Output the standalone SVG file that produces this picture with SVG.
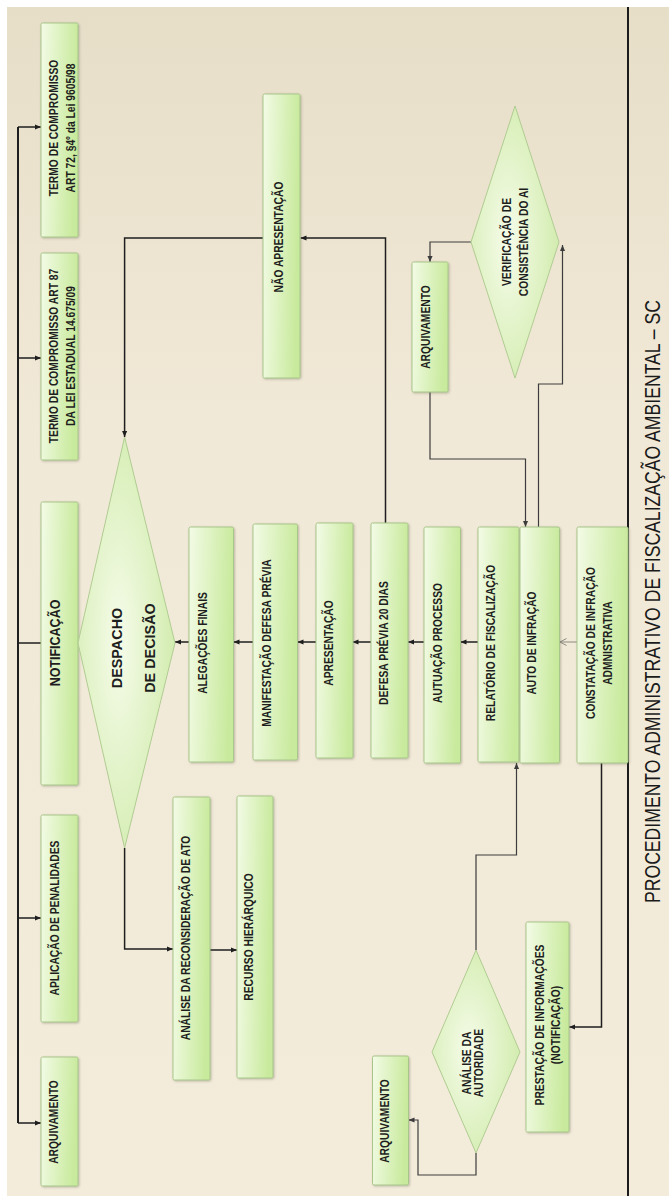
<svg xmlns="http://www.w3.org/2000/svg" width="669" height="1196" viewBox="0 0 669 1196">
<defs>
<linearGradient id="bg" x1="0" y1="0" x2="0" y2="1">
<stop offset="0" stop-color="#e7dec8"/>
<stop offset="0.35" stop-color="#f1e9d7"/>
<stop offset="1" stop-color="#f4ecdb"/>
</linearGradient>
<linearGradient id="gb" x1="0" y1="0" x2="1" y2="0.15">
<stop offset="0" stop-color="#f3fbe6"/>
<stop offset="1" stop-color="#c8ea9c"/>
</linearGradient>
<radialGradient id="gd" cx="0.42" cy="0.5" r="0.7">
<stop offset="0" stop-color="#f6fcea"/>
<stop offset="1" stop-color="#cbe9a3"/>
</radialGradient>
<filter id="sh" x="-20%" y="-10%" width="140%" height="120%">
<feDropShadow dx="1" dy="1" stdDeviation="0.8" flood-color="#5a5a40" flood-opacity="0.35"/>
</filter>
<marker id="a" viewBox="0 0 8 8" refX="8" refY="4" markerWidth="6" markerHeight="6" markerUnits="userSpaceOnUse" orient="auto">
<path d="M0,0.6 L8,4 L0,7.4 z" fill="#1e1e1e"/>
</marker>
<marker id="ag" viewBox="0 0 8 8" refX="8" refY="4" markerWidth="6" markerHeight="6" markerUnits="userSpaceOnUse" orient="auto">
<path d="M0,0.6 L8,4 L0,7.4 z" fill="#3c3c3c"/>
</marker>
<marker id="ao" viewBox="0 0 8 8" refX="7.5" refY="4" markerWidth="8" markerHeight="8" markerUnits="userSpaceOnUse" orient="auto">
<path d="M1,0.5 L7.5,4 L1,7.5" fill="none" stroke="#8a8a80" stroke-width="1"/>
</marker>
<style>
.box{fill:url(#gb);stroke:#a8c58a;stroke-width:1;filter:url(#sh);}
.dia{fill:url(#gd);stroke:#b0cc92;stroke-width:1;}
.t{font-family:"Liberation Sans",Arial,sans-serif;font-weight:bold;font-size:10.3px;fill:#1e1e1e;text-anchor:middle;}
.big{font-size:14.4px;}
.ntf{font-size:12.5px;}
.title{font-family:"Liberation Sans",Arial,sans-serif;font-size:18px;fill:#1a1a1a;text-anchor:middle;}
.c{fill:none;stroke:#1e1e1e;stroke-width:1.5;}
.k{fill:none;stroke:#1e1e1e;stroke-width:2;}
.g{fill:none;stroke:#3c3c3c;stroke-width:1.2;}
</style>
</defs>

<rect x="0" y="0" width="669" height="1196" fill="#ffffff"/>
<rect x="7" y="7" width="662" height="1189" fill="url(#bg)"/>
<line x1="628" y1="7" x2="628" y2="1196" stroke="#1c1c1c" stroke-width="2"/>

<g id="connectors">
<path class="k" d="M18,127 V1123"/>
<path class="c" d="M18,127 H41" marker-end="url(#a)"/>
<path class="c" d="M18,358 H41" marker-end="url(#a)"/>
<path class="c" d="M18,643 H41"/>
<path class="c" d="M18,918 H41" marker-end="url(#a)"/>
<path class="c" d="M18,1123 H41" marker-end="url(#a)"/>
<path class="c" d="M189,642 H175" marker-end="url(#a)"/>
<path class="c" d="M253,642 H233.5" marker-end="url(#a)"/>
<path class="c" d="M316,642 H297.5" marker-end="url(#a)"/>
<path class="c" d="M371,642 H352.5" marker-end="url(#a)"/>
<path class="c" d="M424,642 H408" marker-end="url(#a)"/>
<path class="c" d="M478,642 H460.5" marker-end="url(#a)"/>
<path fill="none" stroke="#8a8a80" stroke-width="1" d="M577,642 H560" marker-end="url(#ao)"/>
<path class="c" d="M385.5,523 V238 H300.5" marker-end="url(#a)"/>
<path class="c" d="M263,238 H124.6 V437" marker-end="url(#a)"/>
<path class="g" d="M471,242 H430 V262" marker-end="url(#ag)"/>
<path class="g" d="M430,392 V459 H525.5 V527" marker-end="url(#ag)"/>
<path class="g" d="M538.5,527 V384 H562.5 V245" marker-end="url(#ag)"/>
<path class="c" d="M601.5,763 V1027 H569" marker-end="url(#a)"/>
<path class="g" d="M476,950 V855 H516.5 V763" marker-end="url(#ag)"/>
<path class="g" d="M476,1153 V1175 H418 V1120 H408.5" marker-end="url(#ag)"/>
<path class="c" d="M124.6,848 V949 H173" marker-end="url(#a)"/>
<path class="c" d="M210,950 H237" marker-end="url(#a)"/>
</g>

<g id="termo72">
<rect class="box" x="41" y="23" width="37" height="214" rx="1.5"/>
<text class="t" transform="translate(57.6,128) rotate(-90) scale(1,1.2)">TERMO DE COMPROMISSO</text>
<text class="t" transform="translate(74.6,128) rotate(-90) scale(1,1.2)">ART 72, §4º  da Lei 9605/98</text>
</g>
<g id="termo87">
<rect class="box" x="41" y="253" width="37" height="207" rx="1.5"/>
<text class="t" transform="translate(57.6,356) rotate(-90) scale(1,1.2)">TERMO DE COMPROMISSO ART 87</text>
<text class="t" transform="translate(74.6,356) rotate(-90) scale(1,1.2)">DA LEI  ESTADUAL 14.675/09</text>
</g>
<g id="notificacao">
<rect class="box" x="41" y="502" width="37" height="283" rx="1.5"/>
<text class="t ntf" transform="translate(60,643) rotate(-90) scale(1,1.2)">NOTIFICAÇÃO</text>
</g>
<g id="aplicacao">
<rect class="box" x="41" y="815" width="37" height="207" rx="1.5"/>
<text class="t" transform="translate(58.6,918) rotate(-90) scale(1,1.2)">APLICAÇÃO DE PENALIDADES</text>
</g>
<g id="arquivamento1">
<rect class="box" x="41" y="1057" width="37" height="129" rx="1.5"/>
<text class="t" transform="translate(58.1,1122) rotate(-90) scale(1,1.2)">ARQUIVAMENTO</text>
</g>

<g id="despacho">
<polygon class="dia" points="124.6,437 175,643 124.6,848 78,643"/>
<text class="t big" transform="translate(122,648) rotate(-90)">DESPACHO</text>
<text class="t big" transform="translate(154.5,648) rotate(-90)">DE DECISÃO</text>
</g>
<g id="analiseReconsideracao">
<rect class="box" x="173" y="797" width="37" height="283" rx="1.5"/>
<text class="t" transform="translate(189.6,938) rotate(-90) scale(1,1.2)">ANÁLISE DA RECONSIDERAÇÃO DE ATO</text>
</g>
<g id="recurso">
<rect class="box" x="237" y="796" width="36" height="282" rx="1.5"/>
<text class="t" transform="translate(253.2,937) rotate(-90) scale(1,1.2)">RECURSO HIERÁRQUICO</text>
</g>

<g id="alegacoes">
<rect class="box" x="189" y="527" width="44.5" height="235" rx="1.5"/>
<text class="t" transform="translate(206.6,643) rotate(-90) scale(1,1.2)">ALEGAÇÕES FINAIS</text>
</g>
<g id="manifestacao">
<rect class="box" x="253" y="524" width="44.5" height="236" rx="1.5"/>
<text class="t" transform="translate(270.6,643) rotate(-90) scale(1,1.2)">MANIFESTAÇÃO DEFESA PRÉVIA</text>
</g>
<g id="apresentacao">
<rect class="box" x="316" y="523" width="37" height="235" rx="1.5"/>
<text class="t" transform="translate(333.3,643) rotate(-90) scale(1,1.2)">APRESENTAÇÃO</text>
</g>
<g id="defesaPrevia">
<rect class="box" x="371" y="523" width="37" height="235" rx="1.5"/>
<text class="t" transform="translate(388.1,643) rotate(-90) scale(1,1.2)">DEFESA PRÉVIA 20 DIAS</text>
</g>
<g id="autuacao">
<rect class="box" x="424" y="527" width="36.5" height="236" rx="1.5"/>
<text class="t" transform="translate(441.6,643) rotate(-90) scale(1,1.2)">AUTUAÇÃO PROCESSO</text>
</g>
<g id="relatorio">
<rect class="box" x="478" y="527" width="41" height="235" rx="1.5"/>
<text class="t" transform="translate(494.6,643) rotate(-90) scale(1,1.2)">RELATÓRIO DE FISCALIZAÇÃO</text>
</g>
<g id="autoInfracao">
<rect class="box" x="520" y="527" width="39.5" height="236" rx="1.5"/>
<text class="t" transform="translate(536.3,643) rotate(-90) scale(1,1.2)">AUTO DE INFRAÇÃO</text>
</g>
<g id="constatacao">
<rect class="box" x="577" y="527" width="51" height="236" rx="1.5"/>
<text class="t" transform="translate(594.6,643) rotate(-90) scale(1,1.2)">CONSTATAÇÃO DE INFRAÇÃO</text>
<text class="t" transform="translate(611.6,643) rotate(-90) scale(1,1.2)">ADMNISTRATIVA</text>
</g>

<g id="naoApresentacao">
<rect class="box" x="263" y="94" width="37" height="284" rx="1.5"/>
<text class="t" transform="translate(282.6,237) rotate(-90) scale(1,1.2)">NÃO APRESENTAÇÃO</text>
</g>
<g id="arquivamento2">
<rect class="box" x="412" y="262" width="36" height="130" rx="1.5"/>
<text class="t" transform="translate(429.6,327) rotate(-90) scale(1,1.2)">ARQUIVAMENTO</text>
</g>
<g id="verificacao">
<polygon class="dia" points="515,106 559,242 515,378 471,242"/>
<text class="t" transform="translate(511,242) rotate(-90) scale(1,1.2)">VERIFICAÇÃO DE</text>
<text class="t" transform="translate(528,242) rotate(-90) scale(1,1.2)">CONSISTÊNCIA DO AI</text>
</g>

<g id="analiseAutoridade">
<polygon class="dia" points="476,950 520,1052 476,1153 432,1052"/>
<text class="t" transform="translate(471.3,1063) rotate(-90) scale(1,1.2)">ANÁLISE DA</text>
<text class="t" transform="translate(482.9,1063) rotate(-90) scale(1,1.2)">AUTORIDADE</text>
</g>
<g id="prestacao">
<rect class="box" x="526" y="922" width="43" height="210" rx="1.5"/>
<text class="t" transform="translate(543.6,1025) rotate(-90) scale(1,1.2)">PRESTAÇÃO DE INFORMAÇÕES</text>
<text class="t" transform="translate(559.6,1025) rotate(-90) scale(1,1.2)">(NOTIFICAÇÃO)</text>
</g>
<g id="arquivamento3">
<rect class="box" x="372.5" y="1056" width="36" height="129" rx="1.5"/>
<text class="t" transform="translate(389.2,1121) rotate(-90) scale(1,1.2)">ARQUIVAMENTO</text>
</g>

<g id="title">
<text class="title" transform="translate(660,601.5) rotate(-90) scale(1,1.2)" textLength="603" lengthAdjust="spacingAndGlyphs">PROCEDIMENTO ADMINISTRATIVO DE FISCALIZAÇÃO AMBIENTAL – SC</text>
</g>
</svg>
